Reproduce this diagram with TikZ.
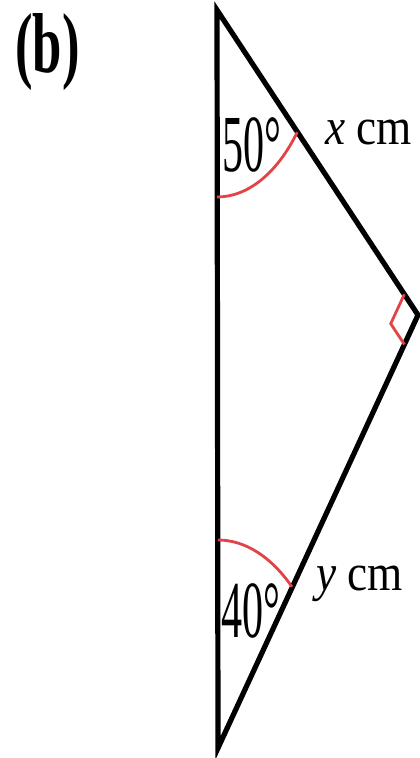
\documentclass[tikz,border=0pt]{standalone}
\usepackage{fontspec}
\setmainfont{Liberation Serif}
\usepackage{xcolor}
\usetikzlibrary{calc}
\definecolor{arcred}{RGB}{226,66,72}

\begin{document}
\begin{tikzpicture}[x=0.5pt,y=-0.5pt,
		side/.style={line width=2.6pt,line join=miter},
		anglearc/.style={arcred,line width=1.4pt},
		deglabel/.style={inner sep=0pt,anchor=base west,xscale=0.52,font=\fontsize{40.5}{44}\selectfont},
		sidelabel/.style={inner sep=0pt,anchor=base west,xscale=0.87,font=\fontsize{26}{30}\selectfont}]
		\useasboundingbox (0,0) rectangle (419,758);

		% Vertices
		\coordinate (A) at (217,10);
		\coordinate (B) at (418,315);
		\coordinate (C) at (218,748);

		\draw[side] (A) -- (B) -- (C) -- cycle;

		% Angle marks
		\draw[anglearc] ($(A)+(0,187)$) arc[start angle=90,end angle=40.8,x radius=106,y radius=187];
		\draw[anglearc] ($(C)+(0,-208)$) arc[start angle=-90,end angle=-50.8,x radius=117,y radius=208];
		\coordinate (ba) at ($(B)!0.068!(A)$);
		\coordinate (bc) at ($(B)!0.068!(C)$);
		\draw[anglearc] (ba) -- ($(ba)+(bc)-(B)$) -- (bc);

		% Labels
		\node[inner sep=0pt,anchor=base west,xscale=0.62,font=\fontsize{42.5}{46}\selectfont\bfseries] (part) at (15,73) {(b)};
		\node[deglabel] (top) at (222,172) {50°};
		\node[deglabel] (bot) at (221,637) {40°};
		\node[sidelabel] (xlab) at (325,145) {\textit{x} cm};
		\node[sidelabel] (ylab) at (316,590) {\textit{y} cm};
	\end{tikzpicture}
\end{document}
